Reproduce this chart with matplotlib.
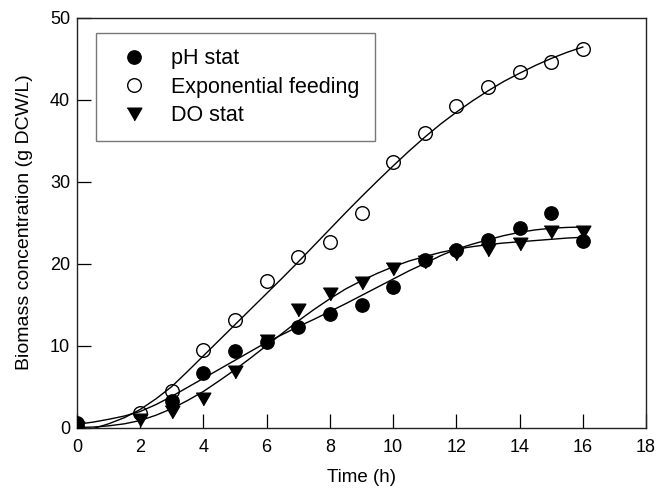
import numpy as np
import matplotlib
matplotlib.use("Agg")
import matplotlib.pyplot as plt

plt.rcParams['font.family'] = ['Liberation Sans', 'DejaVu Sans']

# measured points
t_ph = [0, 3, 4, 5, 6, 7, 8, 9, 10, 11, 12, 13, 14, 15, 16]
ph_stat = [0.5, 3.2, 6.6, 9.3, 10.4, 12.3, 13.8, 14.9, 17.1, 20.4, 21.7, 22.9, 24.3, 26.2, 22.8]

t_exp = [0, 2, 3, 4, 5, 6, 7, 8, 9, 10, 11, 12, 13, 14, 15, 16]
exp_feed = [0.1, 1.8, 4.5, 9.5, 13.1, 17.9, 20.8, 22.6, 26.1, 32.4, 35.9, 39.2, 41.5, 43.4, 44.6, 46.2]

t_do = [0, 2, 3, 4, 5, 6, 7, 8, 9, 10, 11, 12, 13, 14, 15, 16]
do_stat = [0.0, 0.9, 1.9, 3.5, 6.8, 10.6, 14.3, 16.3, 17.6, 19.3, 20.2, 21.2, 21.6, 22.4, 23.9, 23.9]

# fitted curves, read every 0.5 h
t_curve = np.arange(0, 16.5, 0.5)
ph_curve = [0.4, 0.65, 1.0, 1.4, 1.95, 2.8, 3.8, 4.9, 6.0, 7.1, 8.2, 9.3, 10.4, 11.35, 12.3, 13.2,
            14.15, 15.1, 16.1, 17.1, 18.1, 19.1, 20.0, 20.95, 21.75, 22.35, 22.9, 23.4, 23.8,
            24.1, 24.3, 24.4, 24.45]
exp_curve = [-0.6, -0.15, 0.45, 1.2, 2.2, 3.5, 5.0, 6.85, 8.75, 10.65, 12.55, 14.45, 16.35, 18.25,
             20.2, 22.2, 24.2, 26.2, 28.15, 30.05, 31.9, 33.7, 35.4, 37.0, 38.45, 39.8, 41.05,
             42.2, 43.2, 44.15, 45.0, 45.75, 46.4]
do_curve = [0.0, 0.05, 0.2, 0.45, 0.85, 1.5, 2.3, 3.3, 4.4, 5.7, 7.05, 8.5, 10.0, 11.5, 13.0, 14.4,
            15.7, 16.9, 17.9, 18.8, 19.6, 20.3, 20.85, 21.35, 21.75, 22.05, 22.3, 22.5, 22.65,
            22.8, 22.95, 23.1, 23.2]

tri = [(-1, 0.866), (1, 0.866), (0, -0.866)]

fig = plt.figure(figsize=(6.58, 4.96), dpi=100)
ax = fig.add_axes([77/658, 1 - 427.5/496, 569/658, 410/496])

for c in [ph_curve, exp_curve, do_curve]:
    ax.plot(t_curve, c, color='black', lw=1.0, zorder=2)

ax.plot(t_ph, ph_stat, 'o', color='black', ms=9.6, ls='none', label='pH stat', zorder=3)
ax.plot(t_exp, exp_feed, 'o', mfc='none', mec='black', mew=1.0, ms=9.8, ls='none',
        label='Exponential feeding', zorder=3)
ax.plot(t_do, do_stat, marker=tri, color='black', ms=10.5, ls='none', label='DO stat', zorder=4)

ax.set_xlim(0, 18)
ax.set_ylim(0, 50)
ax.set_xticks(range(0, 19, 2))
ax.set_yticks(range(0, 51, 10))
ax.tick_params(axis='x', direction='in', length=10, width=0.9, labelsize=13, pad=8)
ax.tick_params(axis='y', direction='in', length=10, width=0.9, labelsize=13, pad=5)
for s in ax.spines.values():
    s.set_linewidth(1.0)
    s.set_color('#222222')

ax.set_xlabel('Time (h)', fontsize=13.5, labelpad=10)
ax.set_ylabel('Biomass concentration (g DCW/L)', fontsize=14, labelpad=12)

leg = ax.legend(loc='upper left', bbox_to_anchor=(96/658, 1 - 33/496),
                bbox_transform=fig.transFigure, borderaxespad=0, fontsize=15.5,
                frameon=True, fancybox=False, edgecolor='#555555', borderpad=0.7,
                handlelength=2.1, handletextpad=0.7, labelspacing=0.35)
leg.get_frame().set_linewidth(1.0)

fig.savefig("out.png", dpi=100)
